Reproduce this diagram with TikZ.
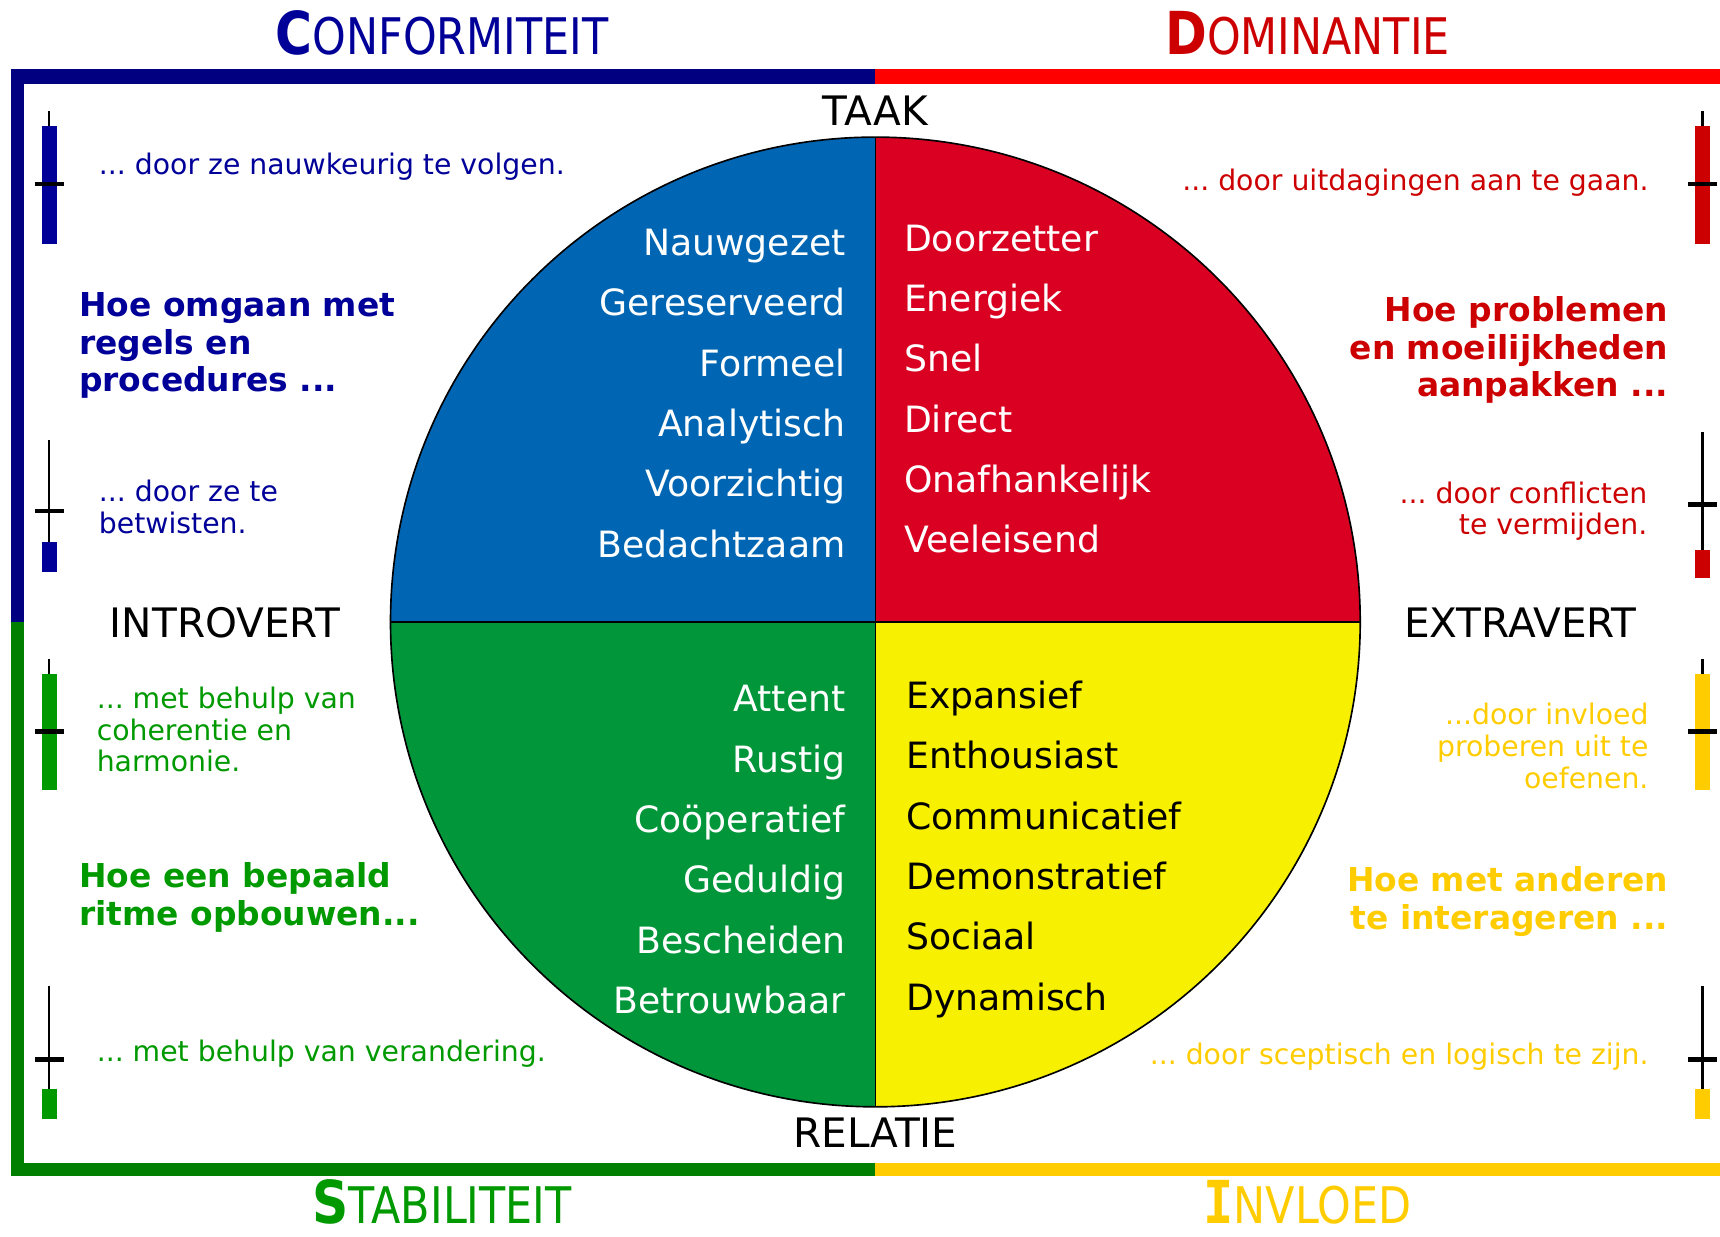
\documentclass[tikz,border=0pt]{standalone}
\usepackage{fontspec}
\setmainfont{DejaVu Sans}
\newfontfamily\titlefont[FakeStretch=0.85]{DejaVu Sans}
\newfontfamily\slabfont[FakeStretch=0.85]{DejaVu Sans Mono}
\usepackage{tikz}
\frenchspacing
\definecolor{confcolor}{HTML}{000099}
\definecolor{confframe}{HTML}{000080}
\definecolor{conffill}{HTML}{0066B3}
\definecolor{domcolor}{HTML}{CC0000}
\definecolor{domframe}{HTML}{FF0000}
\definecolor{domfill}{HTML}{DA0022}
\definecolor{stabcolor}{HTML}{009900}
\definecolor{stabframe}{HTML}{007F00}
\definecolor{stabfill}{HTML}{009639}
\definecolor{invcolor}{HTML}{FFCC00}
\definecolor{invframe}{HTML}{FFCC00}
\definecolor{invfill}{HTML}{F7F000}
\tikzset{
    quad word/.style = {inner sep=0pt, font=\fontsize{33}{33}\selectfont},
    axis text/.style = {inner sep=0pt, font=\fontsize{37}{37}\selectfont},
    side text/.style = {inner sep=0pt, font=\fontsize{25.8}{29}\selectfont},
    side head/.style = {inner sep=0pt, font=\bfseries\fontsize{30}{34.5}\selectfont},
    title text/.style = {inner sep=0pt, font=\titlefont\fontsize{46}{46}\selectfont},
    gauge stem/.style = {line width=2pt},
    gauge tick/.style = {line width=4pt}
}
\newcommand{\bigletter}[1]{{\bfseries\fontsize{54}{54}\selectfont #1}}

\begin{document}
\begin{tikzpicture}[x=1pt, y=-1pt]
        \useasboundingbox (0, 0) rectangle (1568, 1127);
        \coordinate (c) at (798, 567);
        % draw frame
        \fill[confframe] (10, 63) rectangle (798, 77);
        \fill[confframe] (10, 63) rectangle (22, 567);
        \fill[domframe] (798, 63) rectangle (1568, 77);
        \fill[stabframe] (10, 567) rectangle (22, 1072);
        \fill[stabframe] (10, 1060) rectangle (798, 1072);
        \fill[invframe] (798, 1060) rectangle (1568, 1072);
        % draw titles
        \node[title text, confcolor, anchor=base] (conf title) at (403, 50) {\bigletter{C}ONFORMITEIT};
        \node[title text, domcolor, anchor=base] (dom title) at (1192, 50) {\bigletter{D}OMINANTIE};
        \node[title text, stabcolor, anchor=base] (stab title) at (403, 1115) {\bigletter{S}TABILITEIT};
        \node[title text, invcolor, anchor=base] (inv title) at (1192, 1115) {{\slabfont\bigletter{I}}NVLOED};
        % draw and fill quadrants
        \begin{scope}
            \clip (c) circle [radius=442pt];
            \fill[conffill] (356, 125) rectangle (c);
            \fill[domfill] (1240, 125) rectangle (c);
            \fill[stabfill] (356, 1009) rectangle (c);
            \fill[invfill] (1240, 1009) rectangle (c);
        \end{scope}
        \draw[line width=1.5pt] (c) circle [radius=442pt];
        \draw[line width=1.5pt] (798, 125) -- (798, 1009);
        \draw[line width=1.5pt] (356, 567) -- (1240, 567);
        % axis labels
        \node[axis text, anchor=base] (taak) at (798, 114) {TAAK};
        \node[axis text, anchor=base] (relatie) at (798, 1046) {RELATIE};
        \node[axis text, anchor=base] (introvert) at (205, 581) {INTROVERT};
        \node[axis text, anchor=base] (extravert) at (1386, 581) {EXTRAVERT};
        % words in the quadrants
        \foreach \w [count=\i] in {Nauwgezet, Gereserveerd, Formeel, Analytisch, Voorzichtig, Bedachtzaam}
            \node[quad word, white, anchor=base east] (conf word \i) at (771, 178+55*\i) {\w};
        \foreach \w [count=\i] in {Doorzetter, Energiek, Snel, Direct, Onafhankelijk, Veeleisend}
            \node[quad word, white, anchor=base west] (dom word \i) at (824, 174+55*\i) {\w};
        \foreach \w [count=\i] in {Attent, Rustig, Coöperatief, Geduldig, Bescheiden, Betrouwbaar}
            \node[quad word, white, anchor=base east] (stab word \i) at (771, 594+55*\i) {\w};
        \foreach \w [count=\i] in {Expansief, Enthousiast, Communicatief, Demonstratief, Sociaal, Dynamisch}
            \node[quad word, black, anchor=base west] (inv word \i) at (826, 591+55*\i) {\w};
        % side texts
        \node[side text, confcolor, anchor=west] (conf fast) at (90, 152) {... door ze nauwkeurig te volgen.};
        \node[side head, confcolor, anchor=west, align=left] (conf head) at (72, 315) {Hoe omgaan met\\regels en\\procedures ...};
        \node[side text, confcolor, anchor=west, align=left] (conf slow) at (90, 462) {... door ze te\\betwisten.};
        \node[side text, stabcolor, anchor=west, align=left] (stab slow) at (88, 665) {... met behulp van\\coherentie en\\harmonie.};
        \node[side head, stabcolor, anchor=west, align=left] (stab head) at (72, 818) {Hoe een bepaald\\ritme opbouwen...};
        \node[side text, stabcolor, anchor=west] (stab fast) at (88, 961) {... met behulp van verandering.};
        \node[side text, domcolor, anchor=east] (dom fast) at (1503, 167) {... door uitdagingen aan te gaan.};
        \node[side head, domcolor, anchor=east, align=right] (dom head) at (1521, 319) {Hoe problemen\\en moeilijkheden\\aanpakken ...};
        \node[side text, domcolor, anchor=east, align=right] (dom slow) at (1502, 466) {... door conflicten\\te vermijden.};
        \node[side text, invcolor, anchor=east, align=right] (inv fast) at (1503, 680) {...door invloed\\proberen uit te\\oefenen.};
        \node[side head, invcolor, anchor=east, align=right] (inv head) at (1521, 822) {Hoe met anderen\\te interageren ...};
        \node[side text, invcolor, anchor=east] (inv slow) at (1503, 963) {... door sceptisch en logisch te zijn.};
        % gauges
        \foreach \gx/\gtop/\gbar/\gtick/\gbot/\gcol in {45/101/115/168/222/confcolor, 45/401/494/466/521/confcolor,
                45/601/614/667/720/stabcolor, 45/899/993/966/1020/stabcolor,
                1552/101/115/168/222/domcolor, 1552/394/501/460/527/domcolor,
                1552/601/614/667/720/invcolor, 1552/899/993/966/1020/invcolor}
        {
            \draw[gauge stem] (\gx, \gtop) -- (\gx, \gbot);
            \fill[fill=\gcol] (\gx-7, \gbar) rectangle (\gx+7, \gbot);
            \draw[gauge tick] (\gx-13, \gtick) -- (\gx+13, \gtick);
        }
    \end{tikzpicture}
\end{document}
